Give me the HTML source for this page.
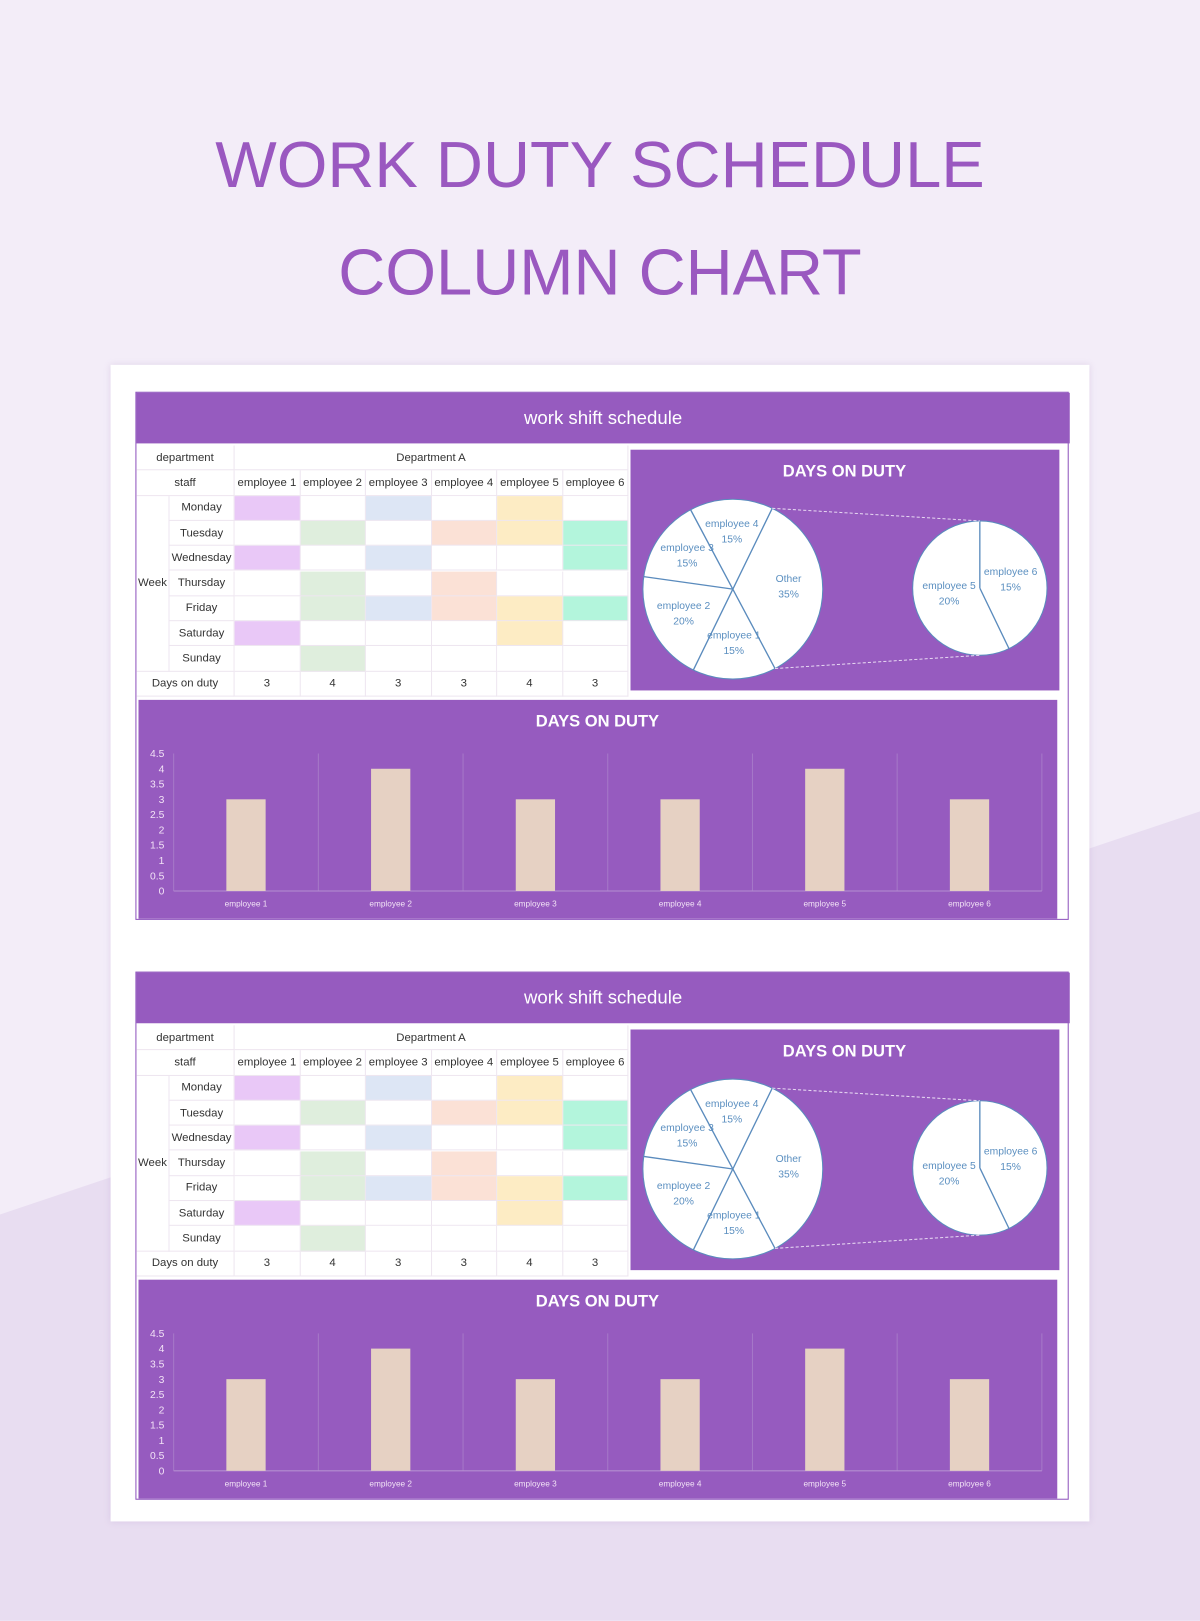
<!DOCTYPE html>
<html><head><meta charset="utf-8">
<style>
html,body{margin:0;padding:0;width:1200px;height:1621px;overflow:hidden;background:#efe6f5;}
#wrap{position:absolute;left:0;top:0;width:1161px;height:1568px;transform:scale(1.03359);transform-origin:0 0;font-family:"Liberation Sans",sans-serif;}
.abs{position:absolute;}
.title{position:absolute;left:0;width:1161px;text-align:center;color:#9a58c0;font-size:63px;letter-spacing:0px;}
.card{position:absolute;left:107px;top:353px;width:947px;height:1119px;background:#fff;box-shadow:0 0 6px rgba(180,150,200,.3);}
.cell{position:absolute;box-sizing:border-box;border-right:1px solid #eee6f0;border-bottom:1px solid #eee6f0;font-size:11px;color:#333;display:flex;align-items:center;justify-content:center;}
</style></head><body>
<div id="wrap">
<svg class="abs" style="left:0;top:0" width="1161" height="1568">
<rect width="1161" height="1568" fill="#f3edf8"/>
<polygon points="0,1175 1161,785 1161,1568 0,1568" fill="#e8ddf1"/>
</svg>
<div class="title" style="top:124px">WORK DUTY SCHEDULE</div>
<div class="title" style="top:228px">COLUMN CHART</div>
<div class="card"></div>
<div id="panels"></div>
</div>
<script>
const employees=["employee 1","employee 2","employee 3","employee 4","employee 5","employee 6"];
const daysOnDuty=[3,4,3,3,4,3];
const weekdays=["Monday","Tuesday","Wednesday","Thursday","Friday","Saturday","Sunday"];
const shiftMonday=[1,0,1,0,1,0];
const shiftTuesday=[0,1,0,1,1,1];
const shiftWednesday=[1,0,1,0,0,1];
const shiftThursday=[0,1,0,1,0,0];
const shiftFriday=[0,1,1,1,1,1];
const shiftSaturday=[1,0,0,0,1,0];
const shiftSunday=[0,1,0,0,0,0];
const yTicks=[0,0.5,1,1.5,2,2.5,3,3.5,4,4.5];
const empColors=["#e9c8f7","#dfeedd","#dde6f5","#fbe1d6","#fdecc4","#b3f5dc"];
const shifts=[shiftMonday,shiftTuesday,shiftWednesday,shiftThursday,shiftFriday,shiftSaturday,shiftSunday];
const NS="http://www.w3.org/2000/svg";
const root=document.getElementById('panels');
function div(parent,cls,style,text){const d=document.createElement('div');if(cls)d.className=cls;d.style.cssText=style;if(text!=null)d.textContent=text;parent.appendChild(d);return d;}
function sv(parent,tag,attrs){const e=document.createElementNS(NS,tag);for(const k in attrs)e.setAttribute(k,attrs[k]);parent.appendChild(e);return e;}
function buildPanel(oy,idx){
  const p=div(root,'abs',`left:131px;top:${379+oy}px;width:903px;height:511px;border:1px solid #8f55bd;box-sizing:border-box;background:#fff;`);
  
  
  const h=div(p,'abs','left:0;top:0;width:903px;height:49px;background:#965bbf;color:#fff;font-size:18px;display:flex;align-items:center;justify-content:center;','work shift schedule');
  
  
  const ty=51,rh=24.3,cx=[95,158.5,222,285.5,349,412.5,476];
  let c=div(p,'cell',`left:0;top:${ty}px;width:95px;height:${rh}px;`,'department');
  
  c=div(p,'cell',`left:95px;top:${ty}px;width:381px;height:${rh}px;`,'Department A');
  
  c=div(p,'cell',`left:0;top:${ty+rh}px;width:95px;height:${rh}px;`,'staff');
  
  employees.forEach((e,i)=>{const d=div(p,'cell',`left:${cx[i]}px;top:${ty+rh}px;width:63.5px;height:${rh}px;`,e);
    
    });
  c=div(p,'cell',`left:0;top:${ty+2*rh}px;width:32px;height:${7*rh}px;`,'Week');
  
  weekdays.forEach((w,r)=>{const y=ty+(2+r)*rh;
    const d=div(p,'cell',`left:32px;top:${y}px;width:63px;height:${rh}px;`,w);
    
    
    shifts[r].forEach((on,i)=>{const s=div(p,'cell',`left:${cx[i]}px;top:${y}px;width:63.5px;height:${rh}px;background:${on?empColors[i]:'#fff'};`);
      
      });
  });
  const yd=ty+9*rh;
  c=div(p,'cell',`left:0;top:${yd}px;width:95px;height:${rh}px;`,'Days on duty');
  
  daysOnDuty.forEach((v,i)=>{const d=div(p,'cell',`left:${cx[i]}px;top:${yd}px;width:63.5px;height:${rh}px;`,String(v));
    
    });
  const pie=sv(p,'svg',{width:415,height:233,style:'position:absolute;left:478px;top:55px'});
  
  
  sv(pie,'rect',{width:415,height:233,fill:'#965bbf'});
  const pt=sv(pie,'text',{x:207,y:26,'text-anchor':'middle',fill:'#fff','font-size':16,'font-weight':'bold','font-family':'Liberation Sans, sans-serif'});pt.textContent='DAYS ON DUTY';
  
  const total=daysOnDuty.reduce((a,b)=>a+b,0);
  const otherV=daysOnDuty[4]+daysOnDuty[5];
  const bigItems=[{n:'Other',v:otherV},{n:'employee 1',v:daysOnDuty[0]},{n:'employee 2',v:daysOnDuty[1]},{n:'employee 3',v:daysOnDuty[2]},{n:'employee 4',v:daysOnDuty[3]}];
  const C1=[99,135],R1=87,C2=[338,134],R2=65;
  const rad=a=>(a-90)*Math.PI/180;
  const pt2=(c,r,a)=>[c[0]+r*Math.cos(rad(a)),c[1]+r*Math.sin(rad(a))];
  function drawPie(c,r,items,start,tot,lf){
    sv(pie,'circle',{cx:c[0],cy:c[1],r:r,fill:'#fff',stroke:'#5a8bbd','stroke-width':1});
    let a=start;const bounds=[];
    items.forEach(it=>{const sweep=it.v/tot*360;const q=pt2(c,r,a);bounds.push(a);
      const l=sv(pie,'line',{x1:c[0],y1:c[1],x2:q[0],y2:q[1],stroke:'#5a8bbd','stroke-width':1.3});
      
      const m=pt2(c,r*lf,a+sweep/2);
      const t1=sv(pie,'text',{x:m[0],y:m[1]-6,'text-anchor':'middle',fill:'#5b8fc0','font-size':10,'font-family':'Liberation Sans, sans-serif'});t1.textContent=it.n;
      
      const t2=sv(pie,'text',{x:m[0],y:m[1]+9,'text-anchor':'middle',fill:'#5b8fc0','font-size':10,'font-family':'Liberation Sans, sans-serif'});t2.textContent=Math.round(it.v/total*100)+'%';
      
      a+=sweep;});
    bounds.push(a);
    return bounds;
  }
  const b=drawPie(C1,R1,bigItems,26,total,0.62);
  const otherA=b[0],otherB=b[1];
  drawPie(C2,R2,[{n:'employee 6',v:daysOnDuty[5]},{n:'employee 5',v:daysOnDuty[4]}],0,otherV,0.47);
  const a1=pt2(C1,R1,otherA),a2=pt2(C1,R1,otherB);
  [[a1,[C2[0],C2[1]-R2]],[a2,[C2[0],C2[1]+R2]]].forEach(([s,e])=>{const l=sv(pie,'line',{x1:s[0],y1:s[1],x2:e[0],y2:e[1],stroke:'#e7d8f2','stroke-width':1,'stroke-dasharray':'3,2'});
    });
  const bar=sv(p,'svg',{width:889,height:212,style:'position:absolute;left:2px;top:297px'});
  
  
  sv(bar,'rect',{width:889,height:212,fill:'#965bbf'});
  const bt=sv(bar,'text',{x:444,y:26,'text-anchor':'middle',fill:'#fff','font-size':16,'font-weight':'bold','font-family':'Liberation Sans, sans-serif'});bt.textContent='DAYS ON DUTY';
  
  const X0=34,X1=874,Y0=185,Y1=52,ymax=4.5;
  const ys=v=>Y0-(v/ymax)*(Y0-Y1);const bw=(X1-X0)/employees.length;
  yTicks.forEach(t=>{const tx=sv(bar,'text',{x:25,y:ys(t)+3.5,'text-anchor':'end',fill:'#f2e2f6','font-size':10,'font-family':'Liberation Sans, sans-serif'});tx.textContent=String(t);
    });
  for(let i=0;i<=employees.length;i++){const l=sv(bar,'line',{x1:X0+i*bw,x2:X0+i*bw,y1:Y1,y2:Y0,stroke:'#a678c8','stroke-width':1});
    }
  const ax=sv(bar,'line',{x1:X0,x2:X1,y1:Y0,y2:Y0,stroke:'#b48fd0','stroke-width':1});
  
  daysOnDuty.forEach((v,i)=>{const cxm=X0+bw*(i+0.5);
    const r=sv(bar,'rect',{x:cxm-19,y:ys(v),width:38,height:Y0-ys(v),fill:'#e6d1c3'});
    
    const t=sv(bar,'text',{x:cxm,y:Y0+15,'text-anchor':'middle',fill:'#f2e2f6','font-size':8,'font-family':'Liberation Sans, sans-serif'});t.textContent=employees[i];
    });
}
buildPanel(0,1);
buildPanel(561,2);
</script>
</body></html>
